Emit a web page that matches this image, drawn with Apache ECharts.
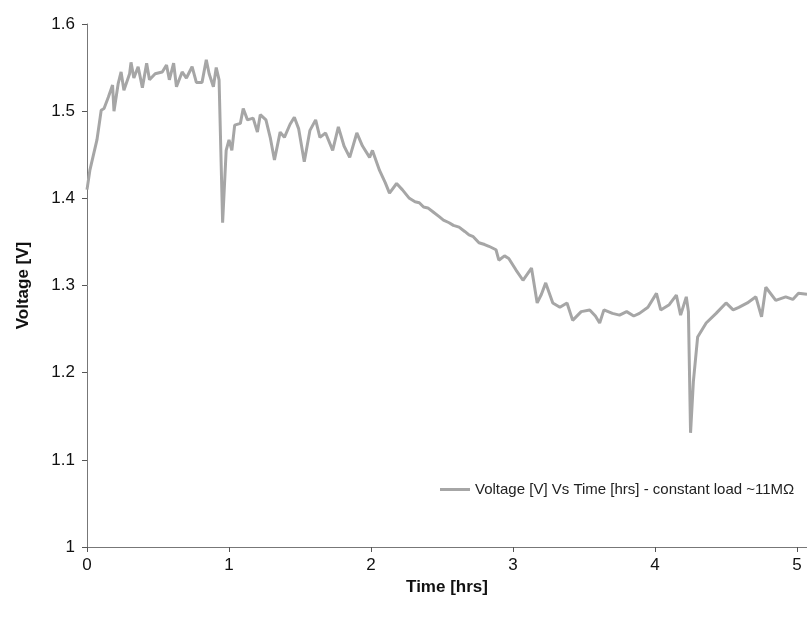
<!DOCTYPE html>
<html>
<head>
<meta charset="utf-8">
<title>Voltage vs Time</title>
<script src="https://cdn.jsdelivr.net/npm/echarts@6/dist/echarts.min.js"></script>
<style>
  html, body { margin: 0; padding: 0; background: #fff; }
  #chart { width: 807px; height: 617px; }
</style>
</head>
<body>
<div id="chart"></div>
<script>
// time in hours
const timeHrs = [
  0, 0.02, 0.07, 0.10, 0.12, 0.15, 0.18, 0.19, 0.22, 0.24, 0.26, 0.30, 0.31, 0.33, 0.36, 0.39,
  0.42, 0.44, 0.48, 0.53, 0.56, 0.58, 0.61, 0.63, 0.67, 0.70, 0.74, 0.77, 0.81, 0.84, 0.86,
  0.89, 0.91, 0.93, 0.955, 0.98, 1.00, 1.02, 1.04, 1.08, 1.10, 1.13, 1.17, 1.20, 1.22, 1.26,
  1.29, 1.32, 1.36, 1.39, 1.43, 1.46, 1.49, 1.53, 1.57, 1.61, 1.64, 1.68, 1.73, 1.77, 1.81,
  1.85, 1.90, 1.94, 1.99, 2.01, 2.06, 2.10, 2.13, 2.18, 2.22, 2.27, 2.31, 2.34, 2.37, 2.40,
  2.44, 2.48, 2.51, 2.55, 2.58, 2.62, 2.66, 2.69, 2.72, 2.76, 2.80, 2.83, 2.88, 2.90, 2.94,
  2.97, 3.02, 3.07, 3.13, 3.17, 3.20, 3.23, 3.28, 3.33, 3.38, 3.42, 3.48, 3.54, 3.58, 3.61,
  3.64, 3.70, 3.75, 3.80, 3.85, 3.89, 3.95, 4.01, 4.04, 4.10, 4.15, 4.18, 4.22, 4.235, 4.25,
  4.27, 4.30, 4.36, 4.43, 4.50, 4.55, 4.59, 4.65, 4.71, 4.75, 4.78, 4.85, 4.92, 4.97, 5.01, 5.07
];
// voltage in V
const voltage = [
  1.410, 1.432, 1.467, 1.501, 1.503, 1.516, 1.530, 1.500, 1.532, 1.545, 1.524, 1.543, 1.556, 1.538, 1.551, 1.527,
  1.555, 1.536, 1.543, 1.545, 1.553, 1.536, 1.555, 1.528, 1.545, 1.538, 1.551, 1.533, 1.533, 1.559, 1.543,
  1.528, 1.550, 1.536, 1.372, 1.455, 1.467, 1.455, 1.484, 1.486, 1.503, 1.490, 1.492, 1.476, 1.496, 1.490,
  1.470, 1.444, 1.476, 1.470, 1.485, 1.493, 1.480, 1.442, 1.478, 1.490, 1.470, 1.475, 1.455, 1.482, 1.460,
  1.447, 1.475, 1.460, 1.447, 1.455, 1.432, 1.418, 1.406, 1.417, 1.410, 1.400, 1.396, 1.395, 1.390, 1.389,
  1.384, 1.379, 1.375, 1.372, 1.369, 1.367, 1.362, 1.358, 1.356, 1.349, 1.347, 1.345, 1.341, 1.329, 1.334,
  1.331, 1.318, 1.306, 1.320, 1.280, 1.290, 1.303, 1.280, 1.275, 1.280, 1.260, 1.270, 1.272, 1.265, 1.257,
  1.272, 1.268, 1.266, 1.270, 1.265, 1.268, 1.275, 1.291, 1.272, 1.278, 1.289, 1.266, 1.287, 1.270, 1.131,
  1.190, 1.241, 1.257, 1.268, 1.280, 1.272, 1.275, 1.280, 1.287, 1.264, 1.298, 1.283, 1.287, 1.284, 1.291, 1.290
];
const seriesName = 'Voltage [V] Vs Time [hrs] - constant load ~11MΩ';

const chart = echarts.init(document.getElementById('chart'));
const font = 'Liberation Sans, Arial, Helvetica, sans-serif';

chart.setOption({
  animation: false,
  textStyle: { fontFamily: font },
  grid: { left: 87, right: 0, top: 24, bottom: 70 },
  legend: {
    left: 435,
    top: 477,
    icon: 'rect',
    itemWidth: 30,
    itemHeight: 3,
    itemGap: 6,
    textStyle: { fontSize: 15, color: '#222', fontFamily: font, padding: [0, 0, 0, 0] },
    data: [seriesName]
  },
  xAxis: {
    type: 'value',
    min: 0,
    max: 5.07,
    interval: 1,
    name: 'Time [hrs]',
    nameLocation: 'middle',
    nameGap: 24,
    nameTextStyle: { fontSize: 17, fontWeight: 'bold', color: '#111', fontFamily: font },
    axisLine: { lineStyle: { color: '#777', width: 1 } },
    axisTick: { show: true, length: 5, inside: false, lineStyle: { color: '#555' } },
    axisLabel: { fontSize: 17, color: '#111', margin: 10, showMaxLabel: false },
    splitLine: { show: false }
  },
  yAxis: {
    type: 'value',
    min: 1,
    max: 1.6,
    interval: 0.1,
    name: 'Voltage [V]',
    nameLocation: 'middle',
    nameGap: 55,
    nameTextStyle: { fontSize: 17, fontWeight: 'bold', color: '#111', fontFamily: font },
    axisLine: { show: true, lineStyle: { color: '#777', width: 1 } },
    axisTick: { show: true, length: 5, lineStyle: { color: '#555' } },
    axisLabel: { fontSize: 17, color: '#111', margin: 12 },
    splitLine: { show: false }
  },
  series: [{
    name: seriesName,
    type: 'line',
    data: timeHrs.map((t, i) => [t, voltage[i]]),
    symbol: 'none',
    lineStyle: { color: '#a6a6a6', width: 3 },
    itemStyle: { color: '#a6a6a6' }
  }]
});
</script>
</body>
</html>
